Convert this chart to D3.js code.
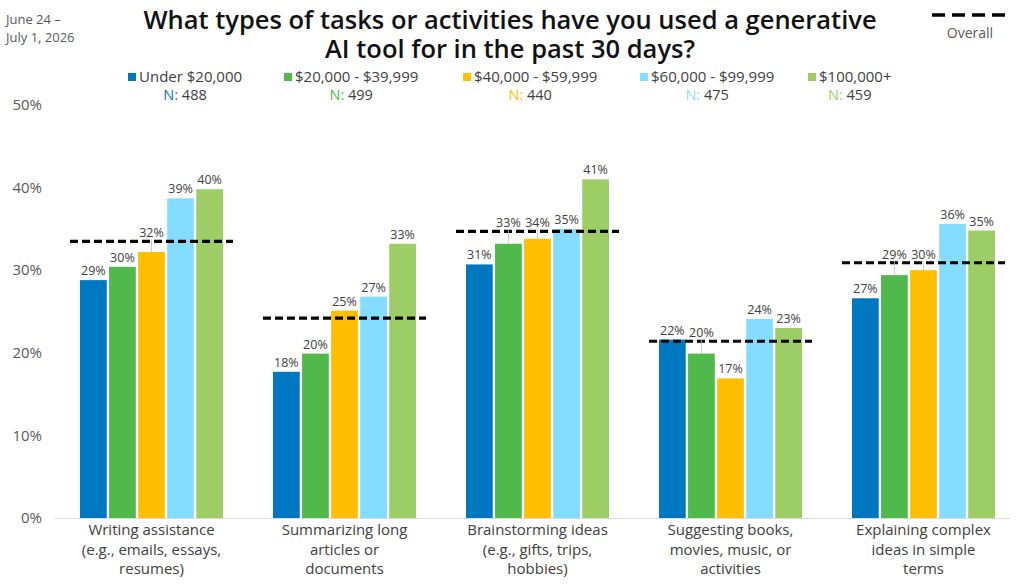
<!DOCTYPE html>
<html>
<head>
<meta charset="utf-8">
<script src="https://cdn.jsdelivr.net/npm/d3@7"></script>
<style>
  body { margin: 0; background: #fff; }
  svg text { font-family: "Open Sans", "Noto Sans", sans-serif; }
</style>
</head>
<body>
<div id="chart"></div>
<script>
// categories (x axis), one line per text row
const categories = [
  ['Writing assistance', '(e.g., emails, essays,', 'resumes)'],
  ['Summarizing long', 'articles or', 'documents'],
  ['Brainstorming ideas', '(e.g., gifts, trips,', 'hobbies)'],
  ['Suggesting books,', 'movies, music, or', 'activities'],
  ['Explaining complex', 'ideas in simple', 'terms']
];

const seriesNames = ['Under $20,000', '$20,000 - $39,999', '$40,000 - $59,999', '$60,000 - $99,999', '$100,000+'];
const seriesN = [488, 499, 440, 475, 459];
const seriesColors = ['#0078c1', '#51b84b', '#ffbf00', '#84ddff', '#9dcd65'];

// percentages per income group, in category order
const under20k = [28.8, 17.7, 30.7, 21.6, 26.6];
const from20k = [30.4, 19.9, 33.2, 19.9, 29.4];
const from40k = [32.2, 25.1, 33.8, 16.9, 30.0];
const from60k = [38.7, 26.8, 35.0, 24.1, 35.6];
const over100k = [39.8, 33.2, 41.0, 23.0, 34.8];
const overall = [33.5, 24.2, 34.7, 21.4, 30.9];

const yTicks = [0, 10, 20, 30, 40, 50];

const seriesValues = [under20k, from20k, from40k, from60k, over100k];

const width = 1024, height = 584;
const margin = {top: 105, right: 4, bottom: 66, left: 55};

const svg = d3.select('#chart').append('svg')
  .attr('width', width)
  .attr('height', height);

const x0 = d3.scaleBand()
  .domain(d3.range(categories.length))
  .range([margin.left, width - margin.right]);

const x1 = d3.scaleBand()
  .domain(d3.range(seriesNames.length))
  .range([0, 143])
  .paddingInner(0.08);

const y = d3.scaleLinear()
  .domain([0, 50])
  .range([height - margin.bottom, margin.top]);

const fmt = v => Math.round(v) + '%';

// y axis labels
svg.append('g')
  .selectAll('text')
  .data(yTicks)
  .join('text')
  .attr('x', 42)
  .attr('y', d => y(d))
  .attr('dy', '0.35em')
  .attr('text-anchor', 'end')
  .attr('font-size', 15)
  .attr('fill', '#595959')
  .text(d => d + '%');

// baseline
svg.append('line')
  .attr('x1', margin.left)
  .attr('x2', width - 14)
  .attr('y1', y(0) + 0.5)
  .attr('y2', y(0) + 0.5)
  .attr('stroke', '#d9d9d9')
  .attr('stroke-width', 1);

// bars
const groups = svg.append('g')
  .selectAll('g')
  .data(categories.map((c, i) => i))
  .join('g')
  .attr('transform', i => `translate(${x0(i) + (x0.bandwidth() - 143) / 2},0)`);

groups.selectAll('rect')
  .data(i => seriesValues.map((s, k) => ({k, v: s[i], o: overall[i]})))
  .join('rect')
  .attr('x', d => x1(d.k))
  .attr('y', d => y(d.v))
  .attr('width', x1.bandwidth())
  .attr('height', d => y(0) - y(d.v))
  .attr('fill', d => seriesColors[d.k]);

// overall dashed lines
groups.append('line')
  .attr('x1', -10)
  .attr('x2', 153)
  .attr('y1', i => y(overall[i]))
  .attr('y2', i => y(overall[i]))
  .attr('stroke', '#000')
  .attr('stroke-width', 3.2)
  .attr('stroke-dasharray', '8,4');

// value labels; lifted above the overall line when they would sit on it
groups.selectAll('.val')
  .data(i => seriesValues.map((s, k) => ({k, v: s[i], o: overall[i]})))
  .join(enter => {
    const g = enter.append('g').attr('class', 'val');
    g.each(function(d) {
      const top = y(d.v);
      const lineY = y(d.o);
      let ly = top - 5;
      const collide = ly > lineY - 3 && ly - 11 < lineY + 3 && d.v < d.o;
      if (collide) ly = lineY - 4;
      const cx = x1(d.k) + x1.bandwidth() / 2;
      if (collide) {
        d3.select(this).append('line')
          .attr('x1', cx).attr('x2', cx)
          .attr('y1', ly + 2).attr('y2', top)
          .attr('stroke', '#bfbfbf')
          .attr('stroke-width', 0.8);
      }
      d3.select(this).append('text')
        .attr('x', cx)
        .attr('y', ly)
        .attr('text-anchor', 'middle')
        .attr('font-size', 12.5)
        .attr('fill', '#404040')
        .text(fmt(d.v));
    });
    return g;
  });

// category labels
svg.append('g')
  .selectAll('text')
  .data(categories)
  .join('text')
  .attr('x', (d, i) => x0(i) + x0.bandwidth() / 2)
  .attr('y', y(0) + 17)
  .attr('text-anchor', 'middle')
  .attr('font-size', 15)
  .attr('fill', '#404040')
  .selectAll('tspan')
  .data(d => d)
  .join('tspan')
  .attr('x', function() { return this.parentNode.getAttribute('x'); })
  .attr('dy', (d, j) => j === 0 ? 0 : 19.5)
  .text(d => d);

// title
svg.append('text')
  .attr('x', 510)
  .attr('text-anchor', 'middle')
  .attr('font-size', 25.5)
  .attr('font-weight', 600)
  .attr('fill', '#111')
  .selectAll('tspan')
  .data(['What types of tasks or activities have you used a generative', 'AI tool for in the past 30 days?'])
  .join('tspan')
  .attr('x', 510)
  .attr('y', (d, j) => 29 + j * 29)
  .text(d => d);

// date
svg.append('text')
  .attr('font-size', 13)
  .attr('fill', '#595959')
  .selectAll('tspan')
  .data(['June 24 \u2013', 'July 1, 2026'])
  .join('tspan')
  .attr('x', 6)
  .attr('y', (d, j) => 24 + j * 18)
  .text(d => d);

// overall legend
svg.append('line')
  .attr('x1', 932).attr('x2', 1007)
  .attr('y1', 15).attr('y2', 15)
  .attr('stroke', '#000')
  .attr('stroke-width', 3.5)
  .attr('stroke-dasharray', '13,7');
svg.append('text')
  .attr('x', 970).attr('y', 38)
  .attr('text-anchor', 'middle')
  .attr('font-size', 14)
  .attr('fill', '#595959')
  .text('Overall');

// series legend
const legendX = [128, 284, 463, 640, 808];
const legend = svg.append('g')
  .selectAll('g')
  .data(seriesNames)
  .join('g')
  .attr('transform', (d, i) => `translate(${legendX[i]},0)`);

legend.append('rect')
  .attr('y', 73)
  .attr('width', 8).attr('height', 8)
  .attr('fill', (d, i) => seriesColors[i]);

legend.append('text')
  .attr('class', 'lname')
  .attr('x', 11)
  .attr('y', 82)
  .attr('font-size', 15)
  .attr('fill', '#404040')
  .text(d => d);

legend.each(function(d, i) {
  const g = d3.select(this);
  const w = g.select('.lname').node().getComputedTextLength() + 11;
  const t = g.append('text')
    .attr('x', w / 2)
    .attr('y', 100)
    .attr('text-anchor', 'middle')
    .attr('font-size', 14.5)
    .attr('fill', '#404040');
  t.append('tspan').attr('fill', seriesColors[i]).text('N: ');
  t.append('tspan').text(seriesN[i]);
});
</script>
</body>
</html>
